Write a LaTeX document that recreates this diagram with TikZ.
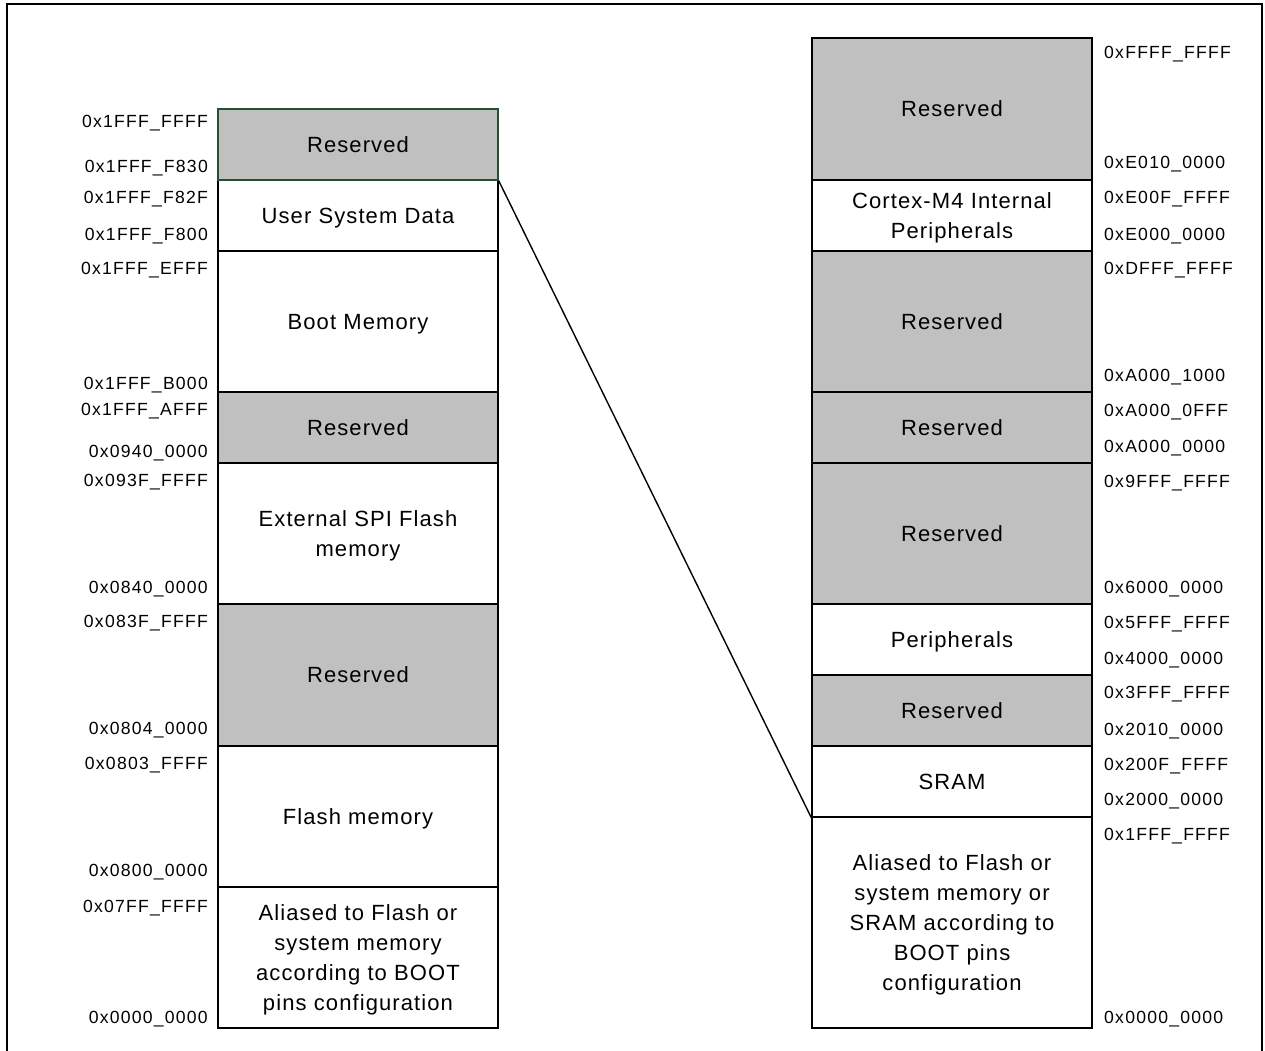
\documentclass[tikz,border=0pt]{standalone}
\usepackage{fontspec}
\setmainfont{Liberation Sans}
\newfontfamily\boxfamily[LetterSpace=5]{Liberation Sans}
\newfontfamily\addrfamily[LetterSpace=7]{Liberation Sans}
\definecolor{resgray}{RGB}{192,192,192}
\definecolor{edgegreen}{RGB}{40,80,48}
\tikzset{
  membox/.style={draw=black, line width=1.4pt, minimum width=280pt, inner sep=0pt,
    align=center, text depth=-2pt, font=\boxfamily\fontsize{22}{30}\selectfont},
  resbox/.style={membox, fill=resgray},
  addrL/.style={anchor=base east, inner sep=0pt, font=\addrfamily\fontsize{17.6}{20}\selectfont},
  addrR/.style={anchor=base west, inner sep=0pt, font=\addrfamily\fontsize{17.6}{20}\selectfont},
  link/.style={draw=black, line width=1.4pt},
  frame/.style={draw=black, line width=2.6pt}
}
\begin{document}
\begin{tikzpicture}[x=1pt, y=-1pt]
\useasboundingbox (0,0) rectangle (1265,1050);
% outer frame, open at the bottom
\draw[frame] (7,1060) coordinate (fbl) -- (7,4) -- (1262,4) -- (1262,1060) coordinate (fbr);

% left column: code / system region
\node[membox, minimum height=71pt]  (L2) at (358,215.5) {User System Data};
\node[membox, minimum height=141pt] (L3) at (358,321.5) {Boot Memory};
\node[resbox, minimum height=71pt]  (L4) at (358,427.5) {Reserved};
\node[membox, minimum height=141pt] (L5) at (358,533.5) {External SPI Flash\\memory};
\node[resbox, minimum height=142pt] (L6) at (358,675) {Reserved};
\node[membox, minimum height=141pt] (L7) at (358,816.5) {Flash memory};
\node[membox, minimum height=141pt] (L8) at (358,957.5) {Aliased to Flash or\\system memory\\according to BOOT\\pins configuration};
\node[resbox, draw=edgegreen, minimum height=71pt] (L1) at (358,144.5) {Reserved};

% right column: full 4 GB address space
\node[resbox, minimum height=142pt] (R1) at (952,109) {Reserved};
\node[membox, minimum height=71pt]  (R2) at (952,215.5) {Cortex-M4 Internal\\Peripherals};
\node[resbox, minimum height=141pt] (R3) at (952,321.5) {Reserved};
\node[resbox, minimum height=71pt]  (R4) at (952,427.5) {Reserved};
\node[resbox, minimum height=141pt] (R5) at (952,533.5) {Reserved};
\node[membox, minimum height=71pt]  (R6) at (952,639.5) {Peripherals};
\node[resbox, minimum height=71pt]  (R7) at (952,710.5) {Reserved};
\node[membox, minimum height=71pt]  (R8) at (952,781.5) {SRAM};
\node[membox, minimum height=211pt] (R9) at (952,922.5) {Aliased to Flash or\\system memory or\\SRAM according to\\BOOT pins\\configuration};

% zoom line from the left column to the SRAM block
\draw[link] (L1.south east) -- (R8.south west);

% left addresses
\node[addrL] (a1)  at (208,127) {0x1FFF\_FFFF};
\node[addrL] (a2)  at (208,172) {0x1FFF\_F830};
\node[addrL] (a3)  at (208,203) {0x1FFF\_F82F};
\node[addrL] (a4)  at (208,240) {0x1FFF\_F800};
\node[addrL] (a5)  at (208,274) {0x1FFF\_EFFF};
\node[addrL] (a6)  at (208,389) {0x1FFF\_B000};
\node[addrL] (a7)  at (208,415) {0x1FFF\_AFFF};
\node[addrL] (a8)  at (208,457) {0x0940\_0000};
\node[addrL] (a9)  at (208,486) {0x093F\_FFFF};
\node[addrL] (a10) at (208,593) {0x0840\_0000};
\node[addrL] (a11) at (208,627) {0x083F\_FFFF};
\node[addrL] (a12) at (208,734) {0x0804\_0000};
\node[addrL] (a13) at (208,769) {0x0803\_FFFF};
\node[addrL] (a14) at (208,876) {0x0800\_0000};
\node[addrL] (a15) at (208,912) {0x07FF\_FFFF};
\node[addrL] (a16) at (208,1023) {0x0000\_0000};

% right addresses
\node[addrR] (b1)  at (1104,58)  {0xFFFF\_FFFF};
\node[addrR] (b2)  at (1104,168) {0xE010\_0000};
\node[addrR] (b3)  at (1104,203) {0xE00F\_FFFF};
\node[addrR] (b4)  at (1104,240) {0xE000\_0000};
\node[addrR] (b5)  at (1104,274) {0xDFFF\_FFFF};
\node[addrR] (b6)  at (1104,381) {0xA000\_1000};
\node[addrR] (b7)  at (1104,416) {0xA000\_0FFF};
\node[addrR] (b8)  at (1104,452) {0xA000\_0000};
\node[addrR] (b9)  at (1104,487) {0x9FFF\_FFFF};
\node[addrR] (b10) at (1104,593) {0x6000\_0000};
\node[addrR] (b11) at (1104,628) {0x5FFF\_FFFF};
\node[addrR] (b12) at (1104,664) {0x4000\_0000};
\node[addrR] (b13) at (1104,698) {0x3FFF\_FFFF};
\node[addrR] (b14) at (1104,735) {0x2010\_0000};
\node[addrR] (b15) at (1104,770) {0x200F\_FFFF};
\node[addrR] (b16) at (1104,805) {0x2000\_0000};
\node[addrR] (b17) at (1104,840) {0x1FFF\_FFFF};
\node[addrR] (b18) at (1104,1023) {0x0000\_0000};
\end{tikzpicture}
\end{document}
